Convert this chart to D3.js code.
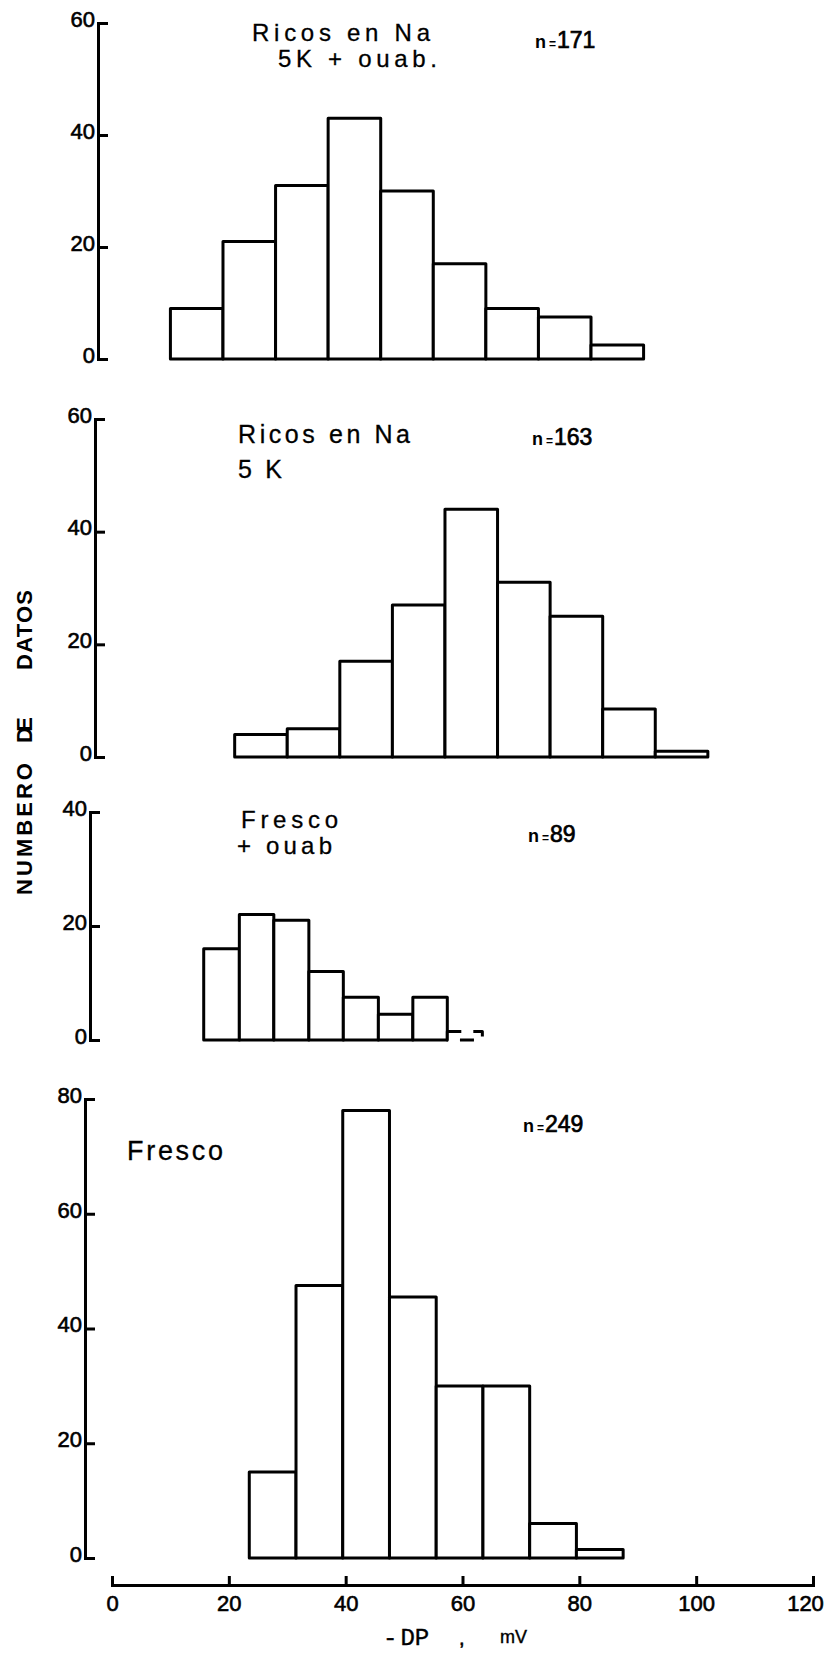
<!DOCTYPE html>
<html>
<head>
<meta charset="utf-8">
<script src="https://cdn.jsdelivr.net/npm/d3@7"></script>
<style>
  body { margin: 0; background: #fff; }
  svg { display: block; }
  .bar { fill: #fff; stroke: #000; stroke-width: 3; stroke-linejoin: round; }
  .axis path, .axis line { stroke: #000; stroke-width: 3; }
  .axis text { fill: #000; stroke: #000; stroke-width: 0.6; }
</style>
</head>
<body>
<div id="chart"></div>
<script>
// Datos
const xTicks = [0, 20, 40, 60, 80, 100, 120];

// Ricos en Na, 5K + ouab.
const ricosOuabEdges = [10, 19, 28, 37, 46, 55, 64, 73, 82, 91];
const ricosOuabCounts = [9, 21, 31, 43, 30, 17, 9, 7.5, 2.5];
const ricosOuabTicks = [0, 20, 40, 60];

// Ricos en Na, 5K
const ricos5kEdges = [21, 30, 39, 48, 57, 66, 75, 84, 93, 102];
const ricos5kCounts = [4, 5, 17, 27, 44, 31, 25, 8.5, 1];
const ricos5kTicks = [0, 20, 40, 60];

// Fresco + ouab
const frescoOuabEdges = [15.7, 21.8, 27.7, 33.7, 39.6, 45.6, 51.5, 57.4, 63.4];
const frescoOuabCounts = [16, 22, 21, 12, 7.5, 4.5, 7.5, 1.5];
const frescoOuabTicks = [0, 20, 40];

// Fresco
const frescoEdges = [23.5, 31.5, 39.5, 47.5, 55.5, 63.5, 71.5, 79.5, 87.5];
const frescoCounts = [15, 47.5, 78, 45.5, 30, 30, 6, 1.5];
const frescoTicks = [0, 20, 40, 60, 80];

const width = 827, height = 1657;
const sans = "'Liberation Sans', Arial, sans-serif";

const svg = d3.select("#chart").append("svg")
    .attr("width", width)
    .attr("height", height);

// Escala x común
const x = d3.scaleLinear().domain([0, 120]).range([112, 813]);

// Paneles
const panels = [
    {edges: ricosOuabEdges, counts: ricosOuabCounts, ticks: ricosOuabTicks, axisX: 98, y0: 359, y1: 23,
     labels: [
        {t: "Ricos en Na", x: 252, y: 41, len: 178, size: 24},
        {t: "5K + ouab.", x: 278, y: 67, len: 159, size: 24}
     ], n: {t: "171", x: 535, y: 48}},
    {edges: ricos5kEdges, counts: ricos5kCounts, ticks: ricos5kTicks, axisX: 95, y0: 757, y1: 419,
     labels: [
        {t: "Ricos en Na", x: 238, y: 443, len: 172, size: 25},
        {t: "5 K", x: 238, y: 478, len: 44, size: 25}
     ], n: {t: "163", x: 532, y: 445}},
    {edges: frescoOuabEdges, counts: frescoOuabCounts, ticks: frescoOuabTicks, axisX: 90, y0: 1040, y1: 812,
     labels: [
        {t: "Fresco", x: 241, y: 828, len: 97, size: 24},
        {t: "+ ouab", x: 237, y: 854, len: 95, size: 24}
     ], n: {t: "89", x: 528, y: 842}, brokenLast: true},
    {edges: frescoEdges, counts: frescoCounts, ticks: frescoTicks, axisX: 85, y0: 1558, y1: 1099,
     labels: [
        {t: "Fresco", x: 127, y: 1160, len: 96, size: 27}
     ], n: {t: "249", x: 523, y: 1132}}
];

panels.forEach(p => {
    const yMax = p.ticks[p.ticks.length - 1];
    const y = d3.scaleLinear().domain([0, yMax]).range([p.y0, p.y1]);

    const bins = p.counts.map((c, i) => ({x0: p.edges[i], x1: p.edges[i + 1], c: c, last: i === p.counts.length - 1}));

    // Barras
    svg.append("g").selectAll("rect")
        .data(bins)
        .enter().append("rect")
        .attr("class", "bar")
        .attr("x", d => x(d.x0))
        .attr("y", d => y(d.c))
        .attr("width", d => x(d.x1) - x(d.x0))
        .attr("height", d => y(0) - y(d.c))
        .style("stroke-dasharray", d => (p.brokenLast && d.last) ? "14,12" : null);

    // Eje y
    const ax = svg.append("g")
        .attr("class", "axis")
        .attr("transform", `translate(${p.axisX},0)`)
        .call(d3.axisLeft(y).tickValues(p.ticks).tickSizeInner(-10).tickSizeOuter(-10).tickPadding(3).tickFormat(d3.format("d")));
    ax.attr("font-family", sans).attr("font-size", 22);
    ax.selectAll("text").attr("dy", "0.15em");

    // Textos
    p.labels.forEach(l => {
        svg.append("text")
            .attr("x", l.x).attr("y", l.y)
            .attr("font-family", sans)
            .attr("font-size", l.size)
            .attr("stroke", "#000").attr("stroke-width", 0.3)
            .attr("textLength", l.len)
            .attr("lengthAdjust", "spacing")
            .text(l.t);
    });

    const nt = svg.append("text")
        .attr("x", p.n.x).attr("y", p.n.y)
        .attr("font-family", sans)
        .attr("font-weight", "bold");
    nt.append("tspan").attr("font-size", 18).text("n");
    nt.append("tspan").attr("font-size", 12).attr("dx", 3).text("=");
    nt.append("tspan").attr("font-size", 23).attr("font-weight", "normal")
        .attr("stroke", "#000").attr("stroke-width", 0.7).attr("dx", 1).text(p.n.t);
});

// Eje x común
const xAxisG = svg.append("g")
    .attr("class", "axis")
    .attr("transform", "translate(0,1585)")
    .call(d3.axisBottom(x).tickValues(xTicks).tickSizeInner(-9).tickSizeOuter(-9).tickPadding(10));
xAxisG.attr("font-family", sans).attr("font-size", 22);
xAxisG.selectAll(".tick text").filter(d => d === 120).attr("dx", "-8");

// Título eje x
const xTitle = svg.append("text")
    .attr("x", 383).attr("y", 1645)
    .attr("font-family", "'Liberation Mono', 'Courier New', monospace")
    .attr("font-size", 24)
    .attr("stroke", "#000").attr("stroke-width", 0.4);
xTitle.append("tspan").text("-");
xTitle.append("tspan").attr("dx", 3).text("DP");
svg.append("text")
    .attr("x", 459).attr("y", 1645)
    .attr("font-family", sans)
    .attr("font-size", 20)
    .attr("stroke", "#000").attr("stroke-width", 0.6)
    .text(",");
svg.append("text")
    .attr("x", 500).attr("y", 1643)
    .attr("font-family", sans)
    .attr("font-size", 18)
    .attr("stroke", "#000").attr("stroke-width", 0.4)
    .text("mV");

// Título eje y
const yTitle = [
    {t: "NUMBERO", cy: 829, len: 132},
    {t: "DE", cy: 730, len: 26},
    {t: "DATOS", cy: 630, len: 80}
];
yTitle.forEach(w => {
    svg.append("text")
        .attr("transform", `translate(24,${w.cy}) rotate(-90)`)
        .attr("text-anchor", "middle")
        .attr("dominant-baseline", "central")
        .attr("font-family", sans)
        .attr("font-weight", "bold")
        .attr("font-size", 22)
        .attr("textLength", w.len)
        .attr("lengthAdjust", "spacing")
        .text(w.t);
});
</script>
</body>
</html>
